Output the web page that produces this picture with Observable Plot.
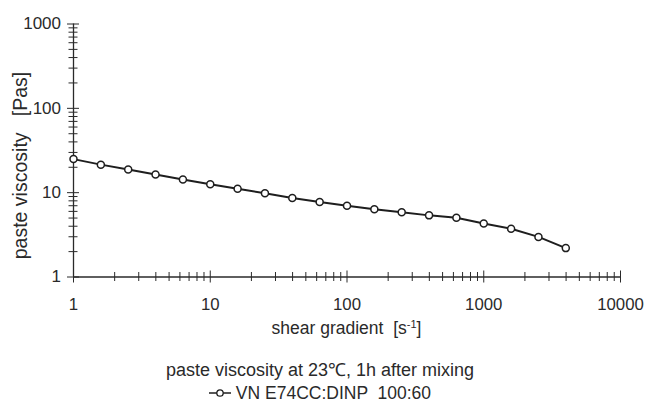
<!DOCTYPE html>
<html><head><meta charset="utf-8">
<script src="https://cdn.jsdelivr.net/npm/d3@7"></script>
<script src="https://cdn.jsdelivr.net/npm/@observablehq/plot@0.6"></script>
<style>
body{margin:0;background:#fff;font-family:"Liberation Sans",Arial,sans-serif;color:#2a2a2a}
#wrap{position:relative;width:646px;height:403px}
.cap{position:absolute;left:0;width:640px;text-align:center;white-space:pre}
.cap svg{vertical-align:middle;position:relative;top:-1px}
</style></head><body>
<div id="wrap"><div id="chart"></div>
<div class="cap" id="caption" style="top:359px;font-size:18px;line-height:22px"></div>
<div class="cap" id="legend" style="top:384px;font-size:17.5px;line-height:19px"></div>
</div>
<script>
const shear = [1, 1.585, 2.512, 3.981, 6.31, 10, 15.85, 25.12, 39.81, 63.1, 100, 158.5, 251.2, 398.1, 631, 1000, 1585, 2512, 3981];
const viscosity = [25.0, 21.5, 18.8, 16.4, 14.3, 12.6, 11.1, 9.84, 8.65, 7.75, 7.0, 6.34, 5.85, 5.38, 5.05, 4.32, 3.73, 2.99, 2.20];
const xMajor = [1, 10, 100, 1000, 10000];
const xMinor = [2,3,4,5,6,7,8,9,20,30,40,50,60,70,80,90,200,300,400,500,600,700,800,900,2000,3000,4000,5000,6000,7000,8000,9000];
const yMajor = [1, 10, 100, 1000];
const yMinor = [2,3,4,5,6,7,8,9,20,30,40,50,60,70,80,90,200,300,400,500,600,700,800,900];
const xLabel = "shear gradient  [s";
const yLabel = "paste viscosity   [Pas]";
const captionText = "paste viscosity at 23℃, 1h after mixing";
const seriesName = "VN E74CC:DINP  100:60";

const data = shear.map((s, i) => ({shear: s, viscosity: viscosity[i]}));
const ink = "#2a2a2a";
const lineInk = "#1e1e1e";

const chart = Plot.plot({
  width: 646, height: 345,
  marginLeft: 73, marginRight: 26, marginTop: 23.5, marginBottom: 68.5,
  style: {fontFamily: "'Liberation Sans', Arial, sans-serif", fontSize: "17px", color: ink, background: "#fff"},
  x: {type: "log", domain: [1, 10000], axis: null},
  y: {type: "log", domain: [1, 1000], axis: null},
  marks: [
    Plot.ruleX([1], {stroke: ink, strokeWidth: 1.3}),
    Plot.ruleY([1], {stroke: ink, strokeWidth: 1.3}),
    Plot.axisX({ticks: xMinor, tickSize: 9, dy: -4.5, fill: "none", stroke: ink, label: null}),
    Plot.axisX({ticks: xMajor, tickSize: 12, dy: -6, fill: "none", stroke: ink, label: null}),
    Plot.axisX({ticks: xMajor, tickSize: 0, tickPadding: 21, tickFormat: d => String(d), fill: ink, label: null, fontSize: 16.8}),
    Plot.axisY({ticks: yMinor, tickSize: 9, dx: 4.5, fill: "none", stroke: ink, label: null}),
    Plot.axisY({ticks: yMajor, tickSize: 12, dx: 6, fill: "none", stroke: ink, label: null}),
    Plot.axisY({ticks: yMajor, tickSize: 0, tickPadding: 12.5, tickFormat: d => String(d), fill: ink, label: null, fontSize: 17}),
    Plot.line(data, {x: "shear", y: "viscosity", stroke: lineInk, strokeWidth: 2}),
    Plot.dot(data, {x: "shear", y: "viscosity", r: 3.5, fill: "white", stroke: lineInk, strokeWidth: 1.5}),
    Plot.text([yLabel], {frameAnchor: "left", textAnchor: "middle", lineAnchor: "middle", rotate: -90, dx: -53, dy: 15, fontSize: 19.5, fill: ink})
  ]
});
document.getElementById("chart").appendChild(chart);

// x-axis label with superscript
const svg = d3.select(chart);
const t = svg.append("text")
  .attr("x", 346.5).attr("y", 334)
  .attr("text-anchor", "middle")
  .attr("fill", ink)
  .style("font-size", "17.5px")
  .style("white-space", "pre")
  .attr("xml:space", "preserve");
t.append("tspan").text(xLabel);
t.append("tspan").attr("dy", -6).style("font-size", "11px").text("-1");
t.append("tspan").attr("dy", 6).text("]");

document.getElementById("caption").textContent = captionText;
const leg = document.getElementById("legend");
leg.innerHTML = '<svg width="22" height="12"><line x1="0" x2="22" y1="6" y2="6" stroke="' + lineInk + '" stroke-width="1.5"/><circle cx="11" cy="6" r="3.2" fill="white" stroke="' + lineInk + '" stroke-width="1.3"/></svg>';
leg.appendChild(document.createTextNode(" " + seriesName));
</script>
</body></html>
